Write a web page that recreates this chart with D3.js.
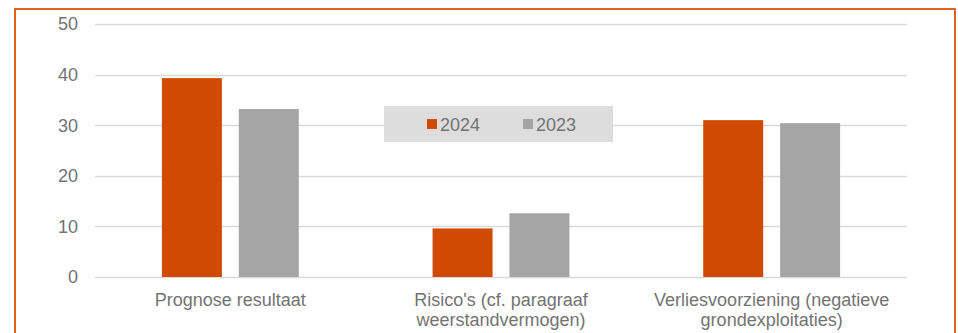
<!DOCTYPE html>
<html>
<head>
<meta charset="utf-8">
<script src="https://cdn.jsdelivr.net/npm/d3@7/dist/d3.min.js"></script>
<style>
  html, body { margin: 0; padding: 0; background: #ffffff; }
  svg { display: block; font-family: "Liberation Sans", Arial, sans-serif; }
</style>
</head>
<body>
<svg id="chart" width="958" height="333"></svg>
<script>
// Chart data
const categories = [
  ["Prognose resultaat"],
  ["Risico's (cf. paragraaf", "weerstandvermogen)"],
  ["Verliesvoorziening (negatieve", "grondexploitaties)"]
];
const seriesNames = ["2024", "2023"];
const values2024 = [39.3, 9.6, 31.0];
const values2023 = [33.2, 12.6, 30.4];
const yTicks = [0, 10, 20, 30, 40, 50];
const seriesColors = ["#D04A02", "#A5A5A5"];

const svg = d3.select("#chart");
const textColor = "#737373";
const fontSize = 18;

// Outer frame
svg.append("rect")
  .attr("x", 15).attr("y", 9)
  .attr("width", 940).attr("height", 340)
  .attr("fill", "none")
  .attr("stroke", "#DC6320")
  .attr("stroke-width", 2);

const plot = { left: 95, right: 907, top: 24, bottom: 277 };

const x0 = d3.scaleBand()
  .domain(d3.range(categories.length))
  .range([plot.left, plot.right])
  .paddingInner(0).paddingOuter(0);

const x1 = d3.scaleBand()
  .domain(seriesNames)
  .range([0, x0.bandwidth()])
  .paddingInner(0.22)
  .paddingOuter(0.87);

const y = d3.scaleLinear().domain([0, 50]).range([plot.bottom, plot.top]);

// Gridlines
svg.append("g")
  .selectAll("line")
  .data(yTicks)
  .join("line")
  .attr("x1", plot.left).attr("x2", plot.right)
  .attr("y1", d => Math.round(y(d)) + 0.5)
  .attr("y2", d => Math.round(y(d)) + 0.5)
  .attr("stroke", "#D9D9D9")
  .attr("stroke-width", 1.5);

// Y axis labels
svg.append("g")
  .selectAll("text")
  .data(yTicks)
  .join("text")
  .attr("x", 78)
  .attr("y", d => y(d))
  .attr("dy", "0.35em")
  .attr("text-anchor", "end")
  .attr("fill", textColor)
  .attr("font-size", fontSize)
  .text(d => d);

// Bars
const rows = categories.map((c, i) => ({
  i,
  vals: [
    { key: seriesNames[0], v: values2024[i], color: seriesColors[0] },
    { key: seriesNames[1], v: values2023[i], color: seriesColors[1] }
  ]
}));

svg.append("g")
  .selectAll("g")
  .data(rows)
  .join("g")
  .attr("transform", d => `translate(${x0(d.i)},0)`)
  .selectAll("rect")
  .data(d => d.vals)
  .join("rect")
  .attr("x", d => x1(d.key))
  .attr("width", x1.bandwidth())
  .attr("y", d => y(d.v))
  .attr("height", d => y(0) - y(d.v))
  .attr("fill", d => d.color);

// Category labels
const catG = svg.append("g")
  .selectAll("text")
  .data(categories)
  .join("text")
  .attr("x", (d, i) => x0(i) + x0.bandwidth() / 2)
  .attr("y", 306)
  .attr("text-anchor", "middle")
  .attr("fill", textColor)
  .attr("font-size", fontSize);

catG.selectAll("tspan")
  .data(d => d)
  .join("tspan")
  .attr("x", function() { return d3.select(this.parentNode).attr("x"); })
  .attr("dy", (d, j) => j === 0 ? 0 : 20)
  .text(d => d);

// Legend
const legend = svg.append("g");
legend.append("rect")
  .attr("x", 384).attr("y", 106)
  .attr("width", 229).attr("height", 36)
  .attr("fill", "#DDDDDD");

const legendItems = legend.selectAll("g")
  .data(seriesNames)
  .join("g")
  .attr("transform", (d, i) => `translate(${427 + i * 96},0)`);

legendItems.append("rect")
  .attr("x", 0).attr("y", 119)
  .attr("width", 10).attr("height", 10)
  .attr("fill", (d, i) => seriesColors[i]);

legendItems.append("text")
  .attr("x", 13).attr("y", 130.5)
  .attr("fill", textColor)
  .attr("font-size", fontSize)
  .text(d => d);
</script>
</body>
</html>
